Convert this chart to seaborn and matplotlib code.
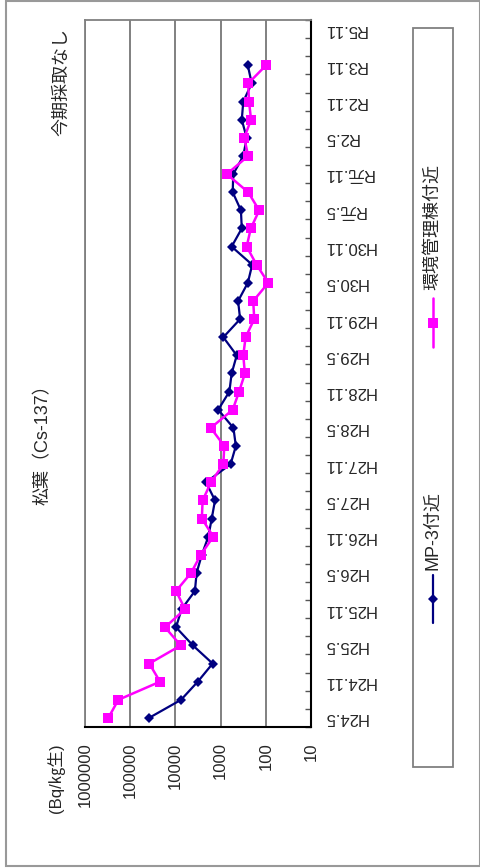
import numpy as np
import pandas as pd
import matplotlib
matplotlib.use('Agg')
import matplotlib.pyplot as plt
import seaborn as sns
from matplotlib.lines import Line2D
from matplotlib.patches import Rectangle

# ---- data (Bq/kg生) ----
periods = ['H24.5', 'H24.8', 'H24.11', 'H25.2', 'H25.5', 'H25.8', 'H25.11', 'H26.2',
           'H26.5', 'H26.8', 'H26.11', 'H27.2', 'H27.5', 'H27.8', 'H27.11', 'H28.2',
           'H28.5', 'H28.8', 'H28.11', 'H29.2', 'H29.5', 'H29.8', 'H29.11', 'H30.2',
           'H30.5', 'H30.8', 'H30.11', 'H31.2', 'R元.5', 'R元.8', 'R元.11', 'R2.2',
           'R2.5', 'R2.8', 'R2.11', 'R3.5', 'R3.11', 'R4.11', 'R5.11']

mp3 = [38400, 7500, 3200, 1500, 4100, 9700, 7300, 3700, 3400, 2600,
       1870, 1570, 1330, 2100, 600, 460, 520, 1130, 640, 570,
       440, 870, 370, 410, 250, 200, 570, 340, 355, 540,
       525, 315, 265, 340, 315, 205, 250]

kankyo = [305000, 183000, 21900, 37800, 7600, 17000, 6100, 9700, 4500, 2750,
          1450, 2600, 2500, 1630, 870, 830, 1650, 540, 390, 290,
          315, 280, 180, 190, 88, 160, 265, 215, 140, 245,
          730, 245, 300, 212, 235, 245, 99]

value_ticks = [1000000, 100000, 10000, 1000, 100, 10]

site_names = ['MP-3付近', '環境管理棟付近']
site_colors = {'MP-3付近': '#000080', '環境管理棟付近': '#FF00FF'}
site_markers = {'MP-3付近': 'D', '環境管理棟付近': 's'}

df = pd.concat([
    pd.DataFrame({'pos': range(len(mp3)), 'value': mp3, 'site': site_names[0]}),
    pd.DataFrame({'pos': range(len(kankyo)), 'value': kankyo, 'site': site_names[1]}),
])

# ---- style ----
sns.set_style('white')
plt.rcParams['font.family'] = ['Liberation Sans', 'Noto Sans CJK JP', 'DejaVu Sans']

W, H = 481, 868
fig = plt.figure(figsize=(W / 100, H / 100), dpi=100)
ax = fig.add_axes([85 / W, 1 - 727 / H, (311 - 85) / W, (727 - 20) / H])

ax.set_xscale('log')
sns.lineplot(data=df, x='value', y='pos', hue='site', style='site',
             palette=site_colors, markers=site_markers, dashes=False,
             orient='y', sort=False, legend=False, ax=ax,
             markeredgewidth=0)
for line in ax.lines:
    if line.get_color().lower() == '#ff00ff':
        line.set_linewidth(1.8)
        line.set_markersize(7)
    else:
        line.set_linewidth(1.6)
        line.set_markersize(5.5)

ax.set_xlim(1000000, 10)
ax.set_ylim(-0.5, len(periods) - 0.5)
ax.set_xlabel('')
ax.set_ylabel('')

# value axis (bottom, after rotation)
ax.set_xticks(value_ticks)
ax.set_xticklabels([str(v) for v in value_ticks], rotation=90, fontsize=12)
ax.xaxis.set_minor_locator(matplotlib.ticker.NullLocator())
ax.tick_params(axis='x', length=0, pad=11)
ax.grid(axis='x', color='#808080', linewidth=1.4)

# category axis (right side)
ax.yaxis.tick_right()
ax.set_yticks(range(0, len(periods), 2))
ax.set_yticklabels(periods[::2], rotation=180, fontsize=12, va='center')
ax.set_yticks(np.arange(-0.5, len(periods), 1), minor=True)
ax.tick_params(axis='y', which='major', length=0, pad=9)
ax.tick_params(axis='y', which='minor', direction='in', length=4.5,
               width=1, color='#555555', right=True, left=False)

for side in ['left', 'top']:
    ax.spines[side].set_color('#808080')
    ax.spines[side].set_linewidth(1.3)
for side in ['right', 'bottom']:
    ax.spines[side].set_color('black')
    ax.spines[side].set_linewidth(1.5)

# ---- texts ----
fig.text(43 / W, 1 - 440 / H, '松葉（Cs-137）', rotation=90, fontsize=13,
         ha='center', va='center')
fig.text(56 / W, 1 - 778 / H, '(Bq/㎏生)', rotation=90, fontsize=12,
         ha='center', va='center')
fig.text(62 / W, 1 - 82 / H, '今期採取なし', rotation=90, fontsize=13,
         ha='center', va='center')

# ---- legend box (rotated) ----
fig.patches.append(Rectangle((413 / W, 1 - 767 / H), 40 / W, 739 / H,
                             transform=fig.transFigure, fill=False,
                             edgecolor='#808080', linewidth=1.3))
legend_rows = [(site_names[0], 575, 623, 570), (site_names[1], 298, 347, 290)]
lx = 433 / W
for name, y0, y1, ytxt in legend_rows:
    lw = 1.8 if name == site_names[1] else 1.6
    ms = 7 if name == site_names[1] else 5.5
    fig.add_artist(Line2D([lx, lx], [1 - y1 / H, 1 - y0 / H], transform=fig.transFigure,
                          color=site_colors[name], linewidth=lw))
    fig.add_artist(Line2D([lx], [1 - (y0 + y1) / 2 / H], transform=fig.transFigure,
                          color=site_colors[name], marker=site_markers[name],
                          markersize=ms, markeredgewidth=0))
    fig.text(lx, 1 - ytxt / H, name, rotation=90, fontsize=13,
             ha='center', va='bottom')

# outer frame
fig.patches.append(Rectangle((6 / W, 2 / H), 474 / W, 865 / H,
                             transform=fig.transFigure, fill=False,
                             edgecolor='#999999', linewidth=1.5))

fig.savefig('out.png', dpi=100)
